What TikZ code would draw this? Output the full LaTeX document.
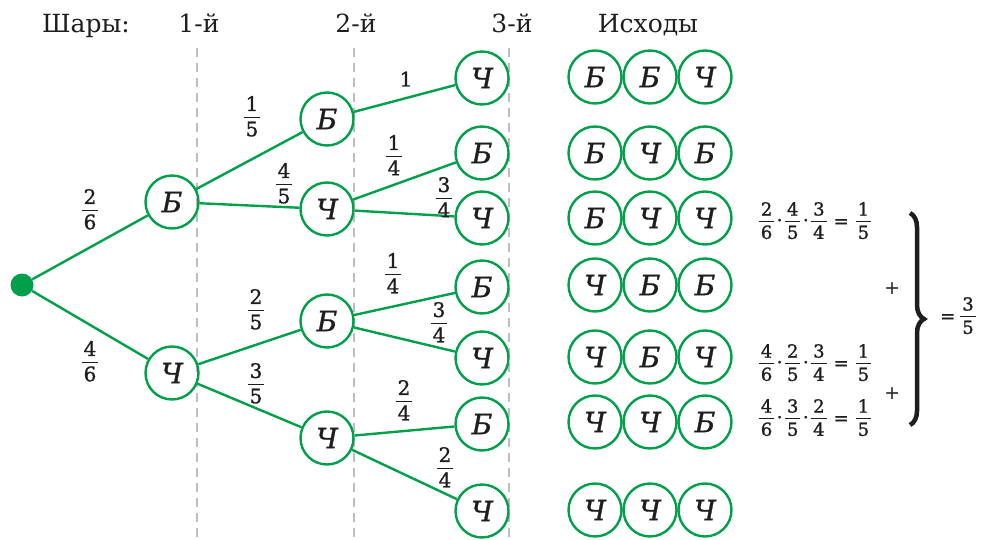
\documentclass[tikz,border=0pt]{standalone}
\usepackage{fontspec}
\setmainfont{DejaVu Serif}
\newfontfamily\heavy{DejaVu Serif}[FakeBold=1.2]
\usetikzlibrary{decorations.pathreplacing}
\definecolor{tgreen}{RGB}{0,160,75}
\definecolor{dgray}{RGB}{190,190,190}
\definecolor{ink}{RGB}{30,30,30}
\setlength{\arrayrulewidth}{1.3pt}
\newcommand\fr[2]{\begin{tabular}{@{\hspace{2pt}}c@{\hspace{2pt}}}#1\\[-1pt]\hline\noalign{\vspace{2pt}}#2\end{tabular}}
\newcommand\cdt{\hspace{2.5pt}\raisebox{0.05em}{·}\hspace{2.5pt}}
\tikzset{
  ball/.style={circle, draw=tgreen, line width=2.4pt, minimum size=53pt, inner sep=0pt,
    text=ink, font=\heavy\fontsize{28}{32}\selectfont\itshape},
  edge/.style={draw=tgreen, line width=2.4pt},
  guide/.style={draw=dgray, line width=2pt, dash pattern=on 9pt off 6pt},
  head/.style={font=\fontsize{25}{30}\selectfont, text=ink, inner sep=0pt, anchor=base},
  prob/.style={font=\heavy\fontsize{20}{23}\selectfont, text=ink, inner sep=0pt},
  formula/.style={font=\heavy\fontsize{18}{21}\selectfont, text=ink, inner sep=0pt}
}
\begin{document}
\begin{tikzpicture}[x=1pt,y=-1pt]
\useasboundingbox (0,0) rectangle (985,540);
% headers
\node[head] (h0) at (86,33) {Шары:};
\node[head] (h1) at (199,33) {1-й};
\node[head] (h2) at (356,33) {2-й};
\node[head] (h3) at (512,33) {3-й};
\node[head] (h4) at (648,33) {Исходы};
% guide lines
\coordinate (g1t) at (197,48); \coordinate (g1b) at (197,540);
\coordinate (g2t) at (354,48); \coordinate (g2b) at (354,540);
\coordinate (g3t) at (509,48); \coordinate (g3b) at (509,540);
\draw[guide] (g1t) -- (g1b);
\draw[guide] (g2t) -- (g2b);
\draw[guide] (g3t) -- (g3b);
% tree
\node[circle, fill=tgreen, minimum size=23pt, inner sep=0pt] (r) at (22,285) {};
\node[ball] (b1) at (172,202) {Б};
\node[ball] (c1) at (172,373) {Ч};
\node[ball] (bb) at (327,119) {Б};
\node[ball] (bc) at (327,209) {Ч};
\node[ball] (cb) at (327,321) {Б};
\node[ball] (cc) at (327,438) {Ч};
\node[ball] (bbc) at (482,78) {Ч};
\node[ball] (bcb) at (482,153) {Б};
\node[ball] (bcc) at (482,218) {Ч};
\node[ball] (cbb) at (482,287) {Б};
\node[ball] (cbc) at (482,358) {Ч};
\node[ball] (ccb) at (482,424) {Б};
\node[ball] (ccc) at (482,511) {Ч};
\draw[edge] (r) -- (b1);
\draw[edge] (r) -- (c1);
\draw[edge] (b1) -- (bb);
\draw[edge] (b1) -- (bc);
\draw[edge] (c1) -- (cb);
\draw[edge] (c1) -- (cc);
\draw[edge] (bb) -- (bbc);
\draw[edge] (bc) -- (bcb);
\draw[edge] (bc) -- (bcc);
\draw[edge] (cb) -- (cbb);
\draw[edge] (cb) -- (cbc);
\draw[edge] (cc) -- (ccb);
\draw[edge] (cc) -- (ccc);
% probabilities
\node[prob] (p1) at (90,212) {\fr{2}{6}};
\node[prob] (p2) at (90,364) {\fr{4}{6}};
\node[prob] (p3) at (252,119) {\fr{1}{5}};
\node[prob] (p4) at (284,186) {\fr{4}{5}};
\node[prob] (p5) at (256,312) {\fr{2}{5}};
\node[prob] (p6) at (256,386) {\fr{3}{5}};
\node[prob] (p7) at (406,79) {1};
\node[prob] (p8) at (394,158) {\fr{1}{4}};
\node[prob] (p9) at (444,200) {\fr{3}{4}};
\node[prob] (p10) at (393,276) {\fr{1}{4}};
\node[prob] (p11) at (439,325) {\fr{3}{4}};
\node[prob] (p12) at (404,403) {\fr{2}{4}};
\node[prob] (p13) at (445,470) {\fr{2}{4}};
% outcomes
\foreach \y/\a/\b/\c [count=\i] in {77/Б/Б/Ч, 153/Б/Ч/Б, 218/Б/Ч/Ч, 285/Ч/Б/Б, 357/Ч/Б/Ч, 422/Ч/Ч/Б, 510/Ч/Ч/Ч}{
  \node[ball] (o\i a) at (595,\y) {\a};
  \node[ball] (o\i b) at (650,\y) {\b};
  \node[ball] (o\i c) at (705,\y) {\c};
}
% formulas
\node[formula] (f1) at (815,223) {\fr{2}{6}\cdt\fr{4}{5}\cdt\fr{3}{4}\hspace{7pt}=\hspace{7pt}\fr{1}{5}};
\node[formula] (f2) at (815,365) {\fr{4}{6}\cdt\fr{2}{5}\cdt\fr{3}{4}\hspace{7pt}=\hspace{7pt}\fr{1}{5}};
\node[formula] (f3) at (815,420) {\fr{4}{6}\cdt\fr{3}{5}\cdt\fr{2}{4}\hspace{7pt}=\hspace{7pt}\fr{1}{5}};
\node[formula] (pl1) at (892,288) {+};
\node[formula] (pl2) at (892,393) {+};
\coordinate (bt) at (910,213);
\coordinate (bbot) at (910,425);
\draw[ink, line width=4.5pt, decorate, decoration={brace, amplitude=14pt}] (bt) -- (bbot);
\node[formula] (res) at (958,318) {=\hspace{5pt}\fr{3}{5}};
\end{tikzpicture}
\end{document}
